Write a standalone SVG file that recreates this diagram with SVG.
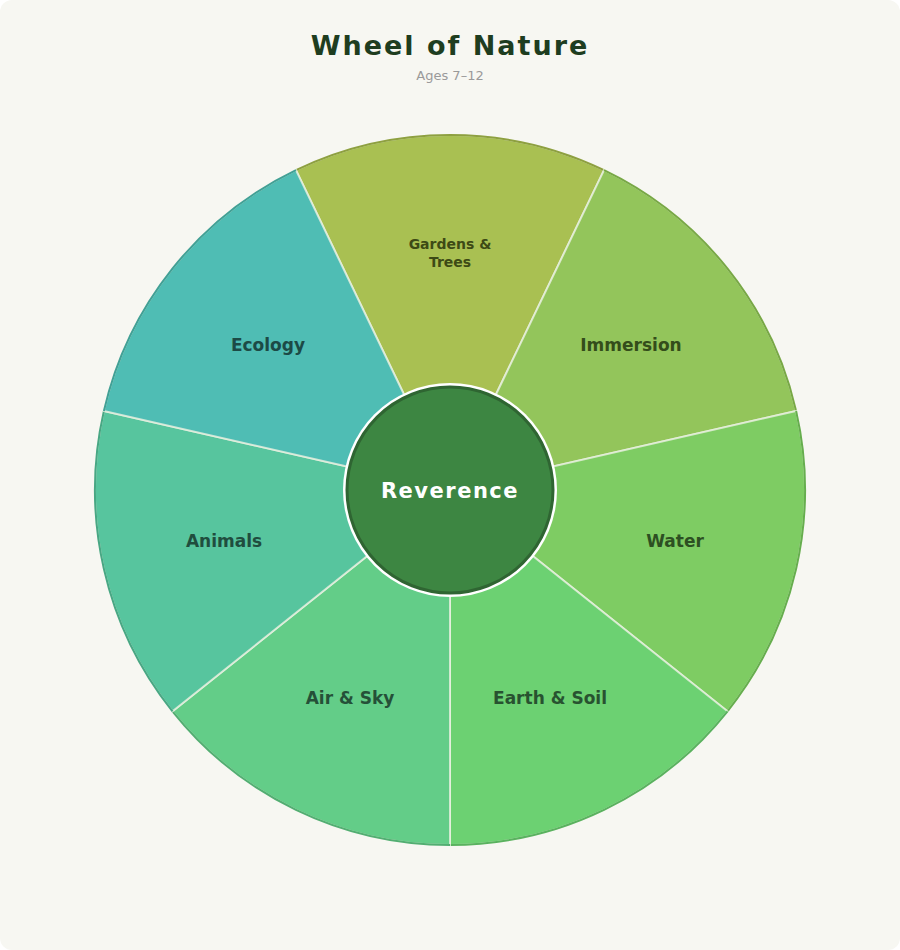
<svg xmlns="http://www.w3.org/2000/svg" width="900" height="950" viewBox="0 0 900 950">
<style>
.w{stroke:#e8f0e0;stroke-width:2;stroke-opacity:0.8}
.a{fill:none;stroke-width:2}
.l{font-family:"DejaVu Sans",sans-serif;font-weight:bold;font-size:17px;text-anchor:middle}
.s{font-size:14px}
</style>
<rect x="0" y="0" width="900" height="950" rx="12" fill="#f7f7f2"/>
<text x="450" y="55" font-family="DejaVu Sans,sans-serif" font-weight="bold" font-size="27" letter-spacing="2" fill="#1e3d20" text-anchor="middle">Wheel of Nature</text>
<text x="450" y="80" font-family="DejaVu Sans,sans-serif" font-size="13" fill="#9a9a9a" text-anchor="middle">Ages 7–12</text>
<g id="seg-gardens"><path class="w" fill="#a9c052" d="M450,490 L295.97,170.15 A355,355 0 0 1 604.03,170.15 Z"/><path class="a" stroke="#8ea040" d="M295.97,170.15 A355,355 0 0 1 604.03,170.15"/><text class="l s" x="450" y="249" fill="#3d4a15">Gardens &amp;</text><text class="l s" x="450" y="267" fill="#3d4a15">Trees</text></g>
<g id="seg-immersion"><path class="w" fill="#93c55b" d="M450,490 L604.03,170.15 A355,355 0 0 1 796.1,411 Z"/><path class="a" stroke="#78a845" d="M604.03,170.15 A355,355 0 0 1 796.1,411"/><text class="l" x="631" y="351" fill="#344d1a">Immersion</text></g>
<g id="seg-water"><path class="w" fill="#7ecc63" d="M450,490 L796.1,411 A355,355 0 0 1 727.5,711.3 Z"/><path class="a" stroke="#66ae4e" d="M796.1,411 A355,355 0 0 1 727.5,711.3"/><text class="l" x="675" y="547" fill="#2d4f22">Water</text></g>
<g id="seg-earth"><path class="w" fill="#6cd172" d="M450,490 L727.5,711.3 A355,355 0 0 1 450,845 Z"/><path class="a" stroke="#5ab25f" d="M727.5,711.3 A355,355 0 0 1 450,845"/><text class="l" x="550" y="704" fill="#285230">Earth &amp; Soil</text></g>
<g id="seg-air"><path class="w" fill="#63cd88" d="M450,490 L450,845 A355,355 0 0 1 172.5,711.3 Z"/><path class="a" stroke="#52ae72" d="M450,845 A355,355 0 0 1 172.5,711.3"/><text class="l" x="350" y="704" fill="#255038">Air &amp; Sky</text></g>
<g id="seg-animals"><path class="w" fill="#57c59e" d="M450,490 L172.5,711.3 A355,355 0 0 1 103.9,411 Z"/><path class="a" stroke="#48a784" d="M172.5,711.3 A355,355 0 0 1 103.9,411"/><text class="l" x="224" y="547" fill="#204d3e">Animals</text></g>
<g id="seg-ecology"><path class="w" fill="#4fbdb4" d="M450,490 L103.9,411 A355,355 0 0 1 295.97,170.15 Z"/><path class="a" stroke="#41a096" d="M103.9,411 A355,355 0 0 1 295.97,170.15"/><text class="l" x="268" y="351" fill="#1c4a46">Ecology</text></g>
<g id="center"><circle cx="450" cy="490" r="107" fill="#ffffff"/><circle cx="450" cy="490" r="103" fill="#3d8642" stroke="#2f6532" stroke-width="3"/><text x="450" y="498" font-family="DejaVu Sans,sans-serif" font-weight="bold" font-size="21" letter-spacing="1.5" fill="#ffffff" text-anchor="middle">Reverence</text></g>
</svg>
